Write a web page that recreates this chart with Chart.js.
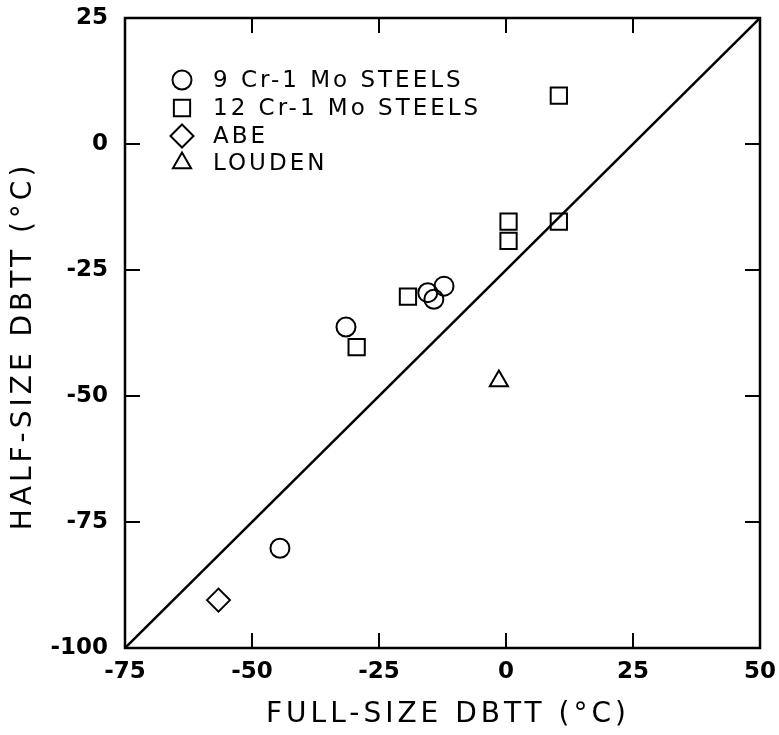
<!DOCTYPE html>
<html>
<head>
<meta charset="utf-8">
<script src="https://cdn.jsdelivr.net/npm/chart.js@4/dist/chart.umd.min.js"></script>
<style>
  html, body { margin: 0; padding: 0; background: #fff; }
  #wrap { width: 779px; height: 735px; }
</style>
</head>
<body>
<div id="wrap"><canvas id="dbttChart"></canvas></div>
<script>
// values: [full-size DBTT, half-size DBTT] in deg C
const cr9Full = [-31.5, -15.4, -14.2, -12.2, -44.5];
const cr9Half = [-36.3, -29.5, -30.8, -28.2, -80.2];
const cr12Full = [-19.3, -29.4, 10.4, 0.5, 0.5, 10.4];
const cr12Half = [-30.3, -40.3, 9.6, -15.4, -19.2, -15.4];
const abeFull = [-56.6];
const abeHalf = [-90.5];
const loudenFull = [-1.4];
const loudenHalf = [-47];
const lineFull = [-75, 50];
const lineHalf = [-100, 25];

const xTicks = [-75, -50, -25, 0, 25, 50];
const yTicks = [-100, -75, -50, -25, 0, 25];

const seriesNames = ['9 Cr-1 Mo STEELS', '12 Cr-1 Mo STEELS', 'ABE', 'LOUDEN'];

function toPoints(xs, ys) {
    return xs.map((x, i) => ({ x: x, y: ys[i] }));
}

function markerSet(label, xs, ys, style, radius) {
    return {
        label: label,
        data: toPoints(xs, ys),
        pointStyle: style,
        pointRadius: radius,
        pointHoverRadius: radius,
        pointBorderWidth: 2,
        pointBorderColor: '#000',
        pointBackgroundColor: 'rgba(0,0,0,0)',
        borderColor: '#000',
        backgroundColor: 'rgba(0,0,0,0)',
        showLine: false
    };
}

// frame, inward ticks on all four sides, legend and axis titles
const framePlugin = {
    id: 'frame',
    beforeDatasetsDraw(chart) {
        const ctx = chart.ctx;
        const a = chart.chartArea;
        const xs = chart.scales.x;
        const ys = chart.scales.y;
        const len = 15;
        ctx.save();
        ctx.strokeStyle = '#000';
        ctx.lineWidth = 2.5;
        ctx.strokeRect(a.left, a.top, a.right - a.left, a.bottom - a.top);
        ctx.lineWidth = 2;
        ctx.beginPath();
        xs.ticks.forEach(t => {
            const px = xs.getPixelForValue(t.value);
            if (px <= a.left + 1 || px >= a.right - 1) return;
            ctx.moveTo(px, a.bottom); ctx.lineTo(px, a.bottom - len);
            ctx.moveTo(px, a.top); ctx.lineTo(px, a.top + len);
        });
        ys.ticks.forEach(t => {
            const py = ys.getPixelForValue(t.value);
            if (py <= a.top + 1 || py >= a.bottom - 1) return;
            ctx.moveTo(a.left, py); ctx.lineTo(a.left + len, py);
            ctx.moveTo(a.right, py); ctx.lineTo(a.right - len, py);
        });
        ctx.stroke();
        ctx.restore();
    },
    afterDraw(chart) {
        const ctx = chart.ctx;
        ctx.save();
        ctx.fillStyle = '#000';
        ctx.strokeStyle = '#000';

        // legend
        ctx.font = '23px "DejaVu Sans"';
        ctx.letterSpacing = '3px';
        ctx.textBaseline = 'middle';
        ctx.textAlign = 'left';
        const rows = [80, 108, 136, 163];
        for (let i = 0; i < 4; i++) {
            const ds = chart.data.datasets[i];
            ctx.lineWidth = 2;
            ctx.fillStyle = 'rgba(0,0,0,0)';
            Chart.helpers.drawPoint(ctx, {
                pointStyle: ds.pointStyle,
                radius: ds.pointRadius,
                rotation: 0,
                borderWidth: 2
            }, 182, rows[i]);
            ctx.fillStyle = '#000';
            ctx.fillText(seriesNames[i], 213, rows[i] + 1);
        }

        // axis titles
        ctx.font = '28px "DejaVu Sans"';
        ctx.letterSpacing = '4px';
        ctx.textAlign = 'center';
        ctx.textBaseline = 'middle';
        ctx.fillText('FULL-SIZE DBTT (°C)', 448, 715);
        ctx.translate(24, 346);
        ctx.rotate(-Math.PI / 2);
        ctx.fillText('HALF-SIZE DBTT (°C)', 0, 0);
        ctx.restore();
    }
};

const tickFont = { family: '"DejaVu Sans"', size: 23, weight: 'bold' };

new Chart(document.getElementById('dbttChart'), {
    type: 'scatter',
    data: {
        datasets: [
            markerSet(seriesNames[0], cr9Full, cr9Half, 'circle', 9.5),
            markerSet(seriesNames[1], cr12Full, cr12Half, 'rect', 11.5),
            markerSet(seriesNames[2], abeFull, abeHalf, 'rectRot', 11.5),
            markerSet(seriesNames[3], loudenFull, loudenHalf, 'triangle', 10.5),
            {
                label: 'one-to-one',
                data: toPoints(lineFull, lineHalf),
                showLine: true,
                borderColor: '#000',
                borderWidth: 2.5,
                pointRadius: 0,
                fill: false
            }
        ]
    },
    options: {
        responsive: true,
        maintainAspectRatio: false,
        animation: false,
        layout: { padding: { top: 18, right: 19, left: 0, bottom: 0 } },
        plugins: {
            legend: { display: false },
            tooltip: { enabled: false }
        },
        scales: {
            x: {
                type: 'linear',
                min: xTicks[0],
                max: xTicks[xTicks.length - 1],
                afterBuildTicks: scale => { scale.ticks = xTicks.map(v => ({ value: v })); },
                afterFit: scale => {
                    scale.height = 87;
                    scale.paddingLeft = 0;
                    scale.paddingRight = 0;
                },
                grid: { display: false, drawTicks: false },
                border: { display: false },
                ticks: { color: '#000', font: tickFont, padding: 10, maxRotation: 0 }
            },
            y: {
                type: 'linear',
                min: yTicks[0],
                max: yTicks[yTicks.length - 1],
                afterBuildTicks: scale => { scale.ticks = yTicks.map(v => ({ value: v })); },
                afterFit: scale => {
                    scale.width = 125;
                    scale.paddingTop = 0;
                    scale.paddingBottom = 0;
                },
                grid: { display: false, drawTicks: false },
                border: { display: false },
                ticks: { color: '#000', font: tickFont, padding: 17 }
            }
        }
    },
    plugins: [framePlugin]
});
</script>
</body>
</html>
